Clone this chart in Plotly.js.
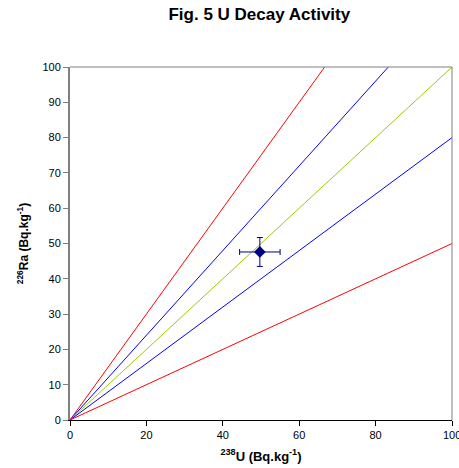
<!DOCTYPE html>
<html><head><meta charset="utf-8">
<script src="https://cdn.plot.ly/plotly-3.0.1.min.js"></script>
<style>html,body{margin:0;padding:0;background:#fff}</style>
</head><body><div id="chart" style="width:459px;height:468px"></div>
<script>
// Reference lines: Ra/U ratios
const ratios = [1.5, 1.2, 1.0, 0.8, 0.5];
const ratioColors = ['#FF0000', '#0000FF', '#99CC00', '#0000FF', '#FF0000'];
const lineX = [0, 100];
// Measured point
const pointU = [49.7];
const pointRa = [47.6];
const errU = [5.3];
const errRa = [4.1];
const xTickVals = [0, 20, 40, 60, 80];
const lastXTick = 100;

const traces = ratios.map((r, i) => ({
  type: 'scatter', mode: 'lines',
  x: lineX, y: lineX.map(v => v * r),
  line: {color: ratioColors[i], width: 1},
  hoverinfo: 'skip', showlegend: false
}));
traces.push({
  type: 'scatter', mode: 'markers',
  x: pointU, y: pointRa,
  marker: {symbol: 'diamond', size: 9, color: '#000080'},
  error_x: {type: 'data', array: errU, visible: true, color: '#000080', thickness: 1, width: 3},
  error_y: {type: 'data', array: errRa, visible: true, color: '#000080', thickness: 1, width: 3},
  showlegend: false
});

const font = {family: 'Liberation Sans, Arial, sans-serif', color: '#000'};
const layout = {
  width: 459, height: 468,
  margin: {l: 70, r: 7, t: 67, b: 48},
  paper_bgcolor: '#fff', plot_bgcolor: '#fff',
  font: Object.assign({size: 11}, font),
  title: {text: '<b>Fig. 5 U Decay Activity</b>', font: Object.assign({size: 17}, font), x: 0.565, xanchor: 'center', y: 0.982, yanchor: 'top'},
  xaxis: {
    range: [0, 100], tickvals: xTickVals.concat([lastXTick]), ticktext: xTickVals.map(String).concat(['']),
    showgrid: false, zeroline: false,
    showline: true, linecolor: '#000', linewidth: 1,
    ticks: 'outside', ticklen: 5, tickcolor: '#000',
    tickfont: Object.assign({size: 11}, font),
    title: {text: '<b><sup>238</sup>U (Bq.kg<sup>-1</sup>)</b>', font: Object.assign({size: 13}, font), standoff: 11}
  },
  yaxis: {
    range: [0, 100], dtick: 10, showgrid: false, zeroline: false,
    showline: true, linecolor: '#808080', linewidth: 2,
    ticks: 'outside', ticklen: 5, tickcolor: '#808080',
    tickfont: Object.assign({size: 11}, font),
    title: {text: '<b><sup>226</sup>Ra (Bq.kg<sup>-1</sup>)</b>', font: Object.assign({size: 12}, font), standoff: 11}
  },
  annotations: [
    {xref: 'x', yref: 'paper', x: lastXTick, y: 0, yshift: -7, text: String(lastXTick), showarrow: false,
     xanchor: 'center', yanchor: 'top', font: Object.assign({size: 11}, font)}
  ],
  shapes: [
    {type: 'line', xref: 'paper', yref: 'paper', x0: 0, x1: 1, y0: 1, y1: 1, line: {color: '#808080', width: 1}},
    {type: 'line', xref: 'paper', yref: 'paper', x0: 1, x1: 1, y0: 0, y1: 1, line: {color: '#808080', width: 1}}
  ]
};
Plotly.newPlot('chart', traces, layout, {displayModeBar: false, staticPlot: true});
</script></body></html>
